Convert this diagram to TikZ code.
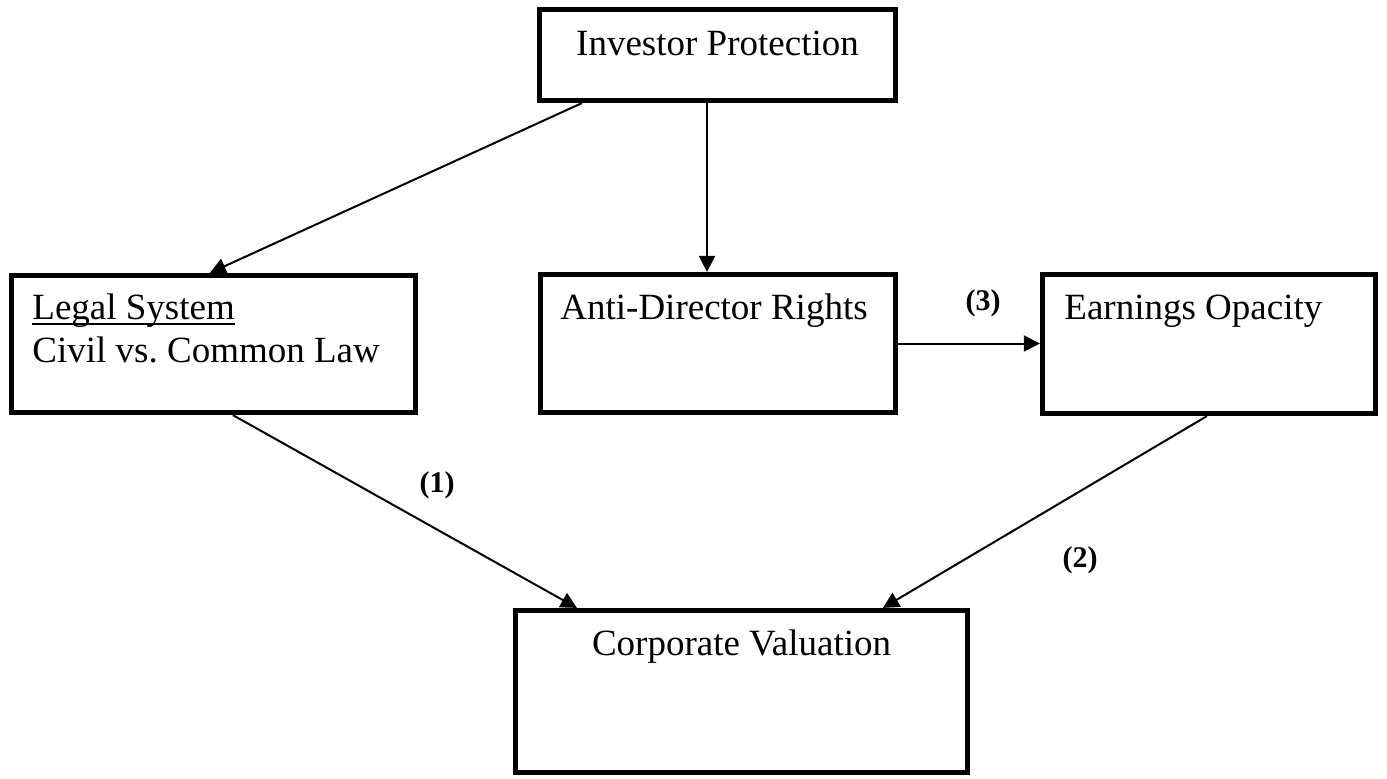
\documentclass[tikz,border=0pt]{standalone}
\usepackage{fontspec}
\setmainfont{Liberation Serif}
\usetikzlibrary{arrows.meta}
\frenchspacing
\begin{document}
\begin{tikzpicture}[x=0.5pt,y=-0.5pt,
  boxnode/.style={draw,rectangle,line width=2.6pt,inner sep=0pt},
  txt/.style={inner sep=0pt,font=\fontsize{18.5pt}{22pt}\selectfont},
  lbl/.style={inner sep=0pt,font=\fontsize{15pt}{18pt}\selectfont\bfseries},
  arr/.style={line width=1pt,-{Triangle[length=8pt,width=8pt]}}]
\useasboundingbox (0,0) rectangle (1387,778);
% boxes
\node[boxnode,minimum width=178pt,minimum height=45.5pt] (inv) at (717.5,55) {};
\node[boxnode,minimum width=202pt,minimum height=68.5pt] (legal) at (213.5,344) {};
\node[boxnode,minimum width=177.5pt,minimum height=69pt] (anti) at (718,343.5) {};
\node[boxnode,minimum width=166.5pt,minimum height=69.5pt] (earn) at (1209,344) {};
\node[boxnode,minimum width=226pt,minimum height=81pt] (corp) at (741.5,691.5) {};
% texts
\node[txt,anchor=base] (tinv) at (717.5,55) {Investor Protection};
\node[txt,anchor=base west] (tlegal) at (32,319) {Legal System};
\draw[line width=0.8pt] ([yshift=-2.6pt]tlegal.base west) -- ([yshift=-2.6pt]tlegal.base east);
\node[txt,anchor=base west] (tlaw) at (32,362) {Civil vs.\ Common Law};
\node[txt,anchor=base west] (tanti) at (560,319) {Anti-Director Rights};
\node[txt,anchor=base west] (tearn) at (1064,319) {Earnings Opacity};
\node[txt,anchor=base] (tcorp) at (741.5,655) {Corporate Valuation};
% connectors
\coordinate (vx) at (707,0);
\draw[arr] ([xshift=22.5pt]inv.south west) -- ([xshift=100.5pt]legal.north west);
\draw[arr] (inv.south -| vx) -- (anti.north -| vx);
\draw[arr] (anti.east) -- (anti.east -| earn.west);
\draw[arr] ([xshift=112pt]legal.south west) -- ([xshift=32pt]corp.north west);
\draw[arr] ([xshift=83.5pt]earn.south west) -- ([xshift=185pt]corp.north west);
% labels
\node[lbl] (l1) at (437,485) {(1)};
\node[lbl] (l2) at (1080,560) {(2)};
\node[lbl] (l3) at (983,303) {(3)};
\end{tikzpicture}
\end{document}
